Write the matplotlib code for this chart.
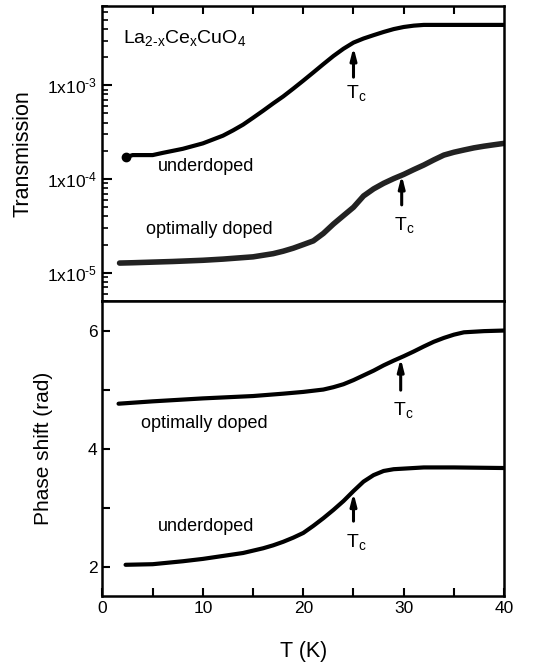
import numpy as np
import matplotlib.pyplot as plt

plt.rcParams['font.family'] = ['Liberation Sans', 'DejaVu Sans']
plt.rcParams['mathtext.default'] = 'regular'

# Transmission vs T
T_ud = [2.3, 3, 4, 5, 6, 8, 10, 12, 13, 14, 15, 16, 17, 18, 19, 20, 21, 22, 23, 24, 25, 26, 27,
        28, 29, 30, 31, 32, 34, 36, 38, 40]
tr_ud = [1.7e-4, 1.8e-4, 1.8e-4, 1.8e-4, 1.9e-4, 2.1e-4, 2.4e-4, 2.9e-4, 3.3e-4, 3.8e-4, 4.5e-4,
         5.35e-4, 6.4e-4, 7.6e-4, 9.2e-4, 1.12e-3, 1.37e-3, 1.68e-3, 2.05e-3, 2.45e-3, 2.85e-3,
         3.15e-3, 3.42e-3, 3.7e-3, 3.97e-3, 4.18e-3, 4.32e-3, 4.4e-3, 4.4e-3, 4.4e-3, 4.4e-3, 4.4e-3]
T_op = [1.7, 3, 5, 7, 10, 12, 15, 17, 18, 19, 20, 21, 22, 23, 24, 25, 26, 27, 28, 29, 30, 31,
        32, 33, 34, 35, 36, 37, 38, 39, 40]
tr_op = [1.27e-5, 1.28e-5, 1.3e-5, 1.32e-5, 1.36e-5, 1.4e-5, 1.48e-5, 1.6e-5, 1.7e-5, 1.83e-5,
         2.0e-5, 2.19e-5, 2.63e-5, 3.31e-5, 4.07e-5, 5.0e-5, 6.6e-5, 7.85e-5, 9.0e-5, 1.01e-4,
         1.12e-4, 1.26e-4, 1.41e-4, 1.6e-4, 1.8e-4, 1.93e-4, 2.04e-4, 2.15e-4, 2.24e-4, 2.32e-4,
         2.4e-4]

# Phase shift vs T
Tp_op = [1.6, 5, 10, 15, 18, 20, 22, 23, 24, 25, 26, 27, 28, 29, 30, 31, 32, 33, 34, 35, 36, 38, 40]
ph_op = [4.76, 4.8, 4.85, 4.89, 4.93, 4.96, 5.0, 5.04, 5.09, 5.16, 5.24, 5.32, 5.41, 5.49, 5.565,
         5.645, 5.73, 5.81, 5.875, 5.93, 5.97, 5.99, 6.0]
Tp_ud = [2.3, 5, 8, 10, 12, 14, 16, 17, 18, 19, 20, 21, 22, 23, 24, 25, 26, 27, 28, 29, 30, 32, 35, 40]
ph_ud = [2.03, 2.04, 2.09, 2.13, 2.18, 2.23, 2.31, 2.36, 2.42, 2.49, 2.57, 2.69, 2.82, 2.96, 3.11,
         3.28, 3.44, 3.55, 3.62, 3.65, 3.66, 3.68, 3.68, 3.67]

fig = plt.figure(figsize=(5.38, 6.66), dpi=100)
ax1 = fig.add_axes([0.1905, 0.548, 0.7465, 0.443])
ax2 = fig.add_axes([0.1905, 0.105, 0.7465, 0.443])

lw = 3.0
ax1.plot(T_ud, tr_ud, color='k', lw=lw, solid_capstyle='round', solid_joinstyle='round')
ax1.plot(T_ud[:1], tr_ud[:1], 'o', color='k', ms=6)
ax1.plot(T_op, tr_op, color='#222222', lw=lw + 1, solid_capstyle='round', solid_joinstyle='round')
ax1.set_yscale('log')
ax1.set_ylim(5e-6, 7e-3)
ax1.set_xlim(0, 40)
ax1.set_yticks([1e-5, 1e-4, 1e-3])
ax1.set_yticklabels(['1x10$^{\u20105}$', '1x10$^{\u20104}$', '1x10$^{\u20103}$'])
ax1.tick_params(axis='y', which='major', direction='in', length=7, width=1.5, labelsize=12.5)
ax1.tick_params(axis='y', which='minor', direction='in', length=4, width=1.2)
ax1.tick_params(axis='x', which='both', direction='in', top=True, bottom=False,
                labelbottom=False, length=6, width=1.5)
ax1.set_xticks(np.arange(5, 40, 5))
ax1.set_ylabel('Transmission', fontsize=15.5)
ax1.yaxis.set_label_coords(-0.173, 0.5)

ax2.plot(Tp_op, ph_op, color='k', lw=lw, solid_capstyle='round', solid_joinstyle='round')
ax2.plot(Tp_ud, ph_ud, color='k', lw=lw, solid_capstyle='round', solid_joinstyle='round')
ax2.set_xlim(0, 40)
ax2.set_ylim(1.5, 6.5)
ax2.set_yticks([2, 4, 6])
ax2.set_yticks([3, 5], minor=True)
ax2.set_xticks([0, 10, 20, 30, 40])
ax2.set_xticks([5, 15, 25, 35], minor=True)
ax2.tick_params(which='both', direction='in', length=6, width=1.5, labelsize=12.5)
ax2.set_xlabel('T (K)', fontsize=15.5)
ax2.xaxis.set_label_coords(0.5, -0.153)
ax2.set_ylabel('Phase shift (rad)', fontsize=15)
ax2.yaxis.set_label_coords(-0.123, 0.5)

for ax in (ax1, ax2):
    for s in ax.spines.values():
        s.set_linewidth(1.8)

txt = dict(fontsize=13)
ax1.text(2.0, 2.8e-3, 'La$_{2\u2010x}$Ce$_x$CuO$_4$', fontsize=14, va='baseline')
ax1.text(5.5, 1.37e-4, 'underdoped', va='center', **txt)
ax1.text(4.3, 2.9e-5, 'optimally doped', va='center', **txt)
ax2.text(3.8, 4.43, 'optimally doped', va='center', **txt)
ax2.text(5.5, 2.68, 'underdoped', va='center', **txt)

arrow = dict(arrowstyle='-|>,head_length=0.7,head_width=0.18', color='k', lw=2.2,
             shrinkA=0, shrinkB=0)
ann = [(ax1, 25, 2.55e-3, 1.22e-3, 8.2e-4),
       (ax1, 29.8, 1.1e-4, 5.3e-5, 3.2e-5),
       (ax2, 29.7, 5.53, 4.99, 4.65),
       (ax2, 25, 3.25, 2.77, 2.41)]
for ax, tc, tip, tail, lab in ann:
    ax.annotate('', xy=(tc, tip), xytext=(tc, tail), arrowprops=arrow)
    ax.text(tc + 0.3, lab, 'T$_c$', ha='center', va='center', fontsize=14)

plt.savefig('out.png', dpi=100)
